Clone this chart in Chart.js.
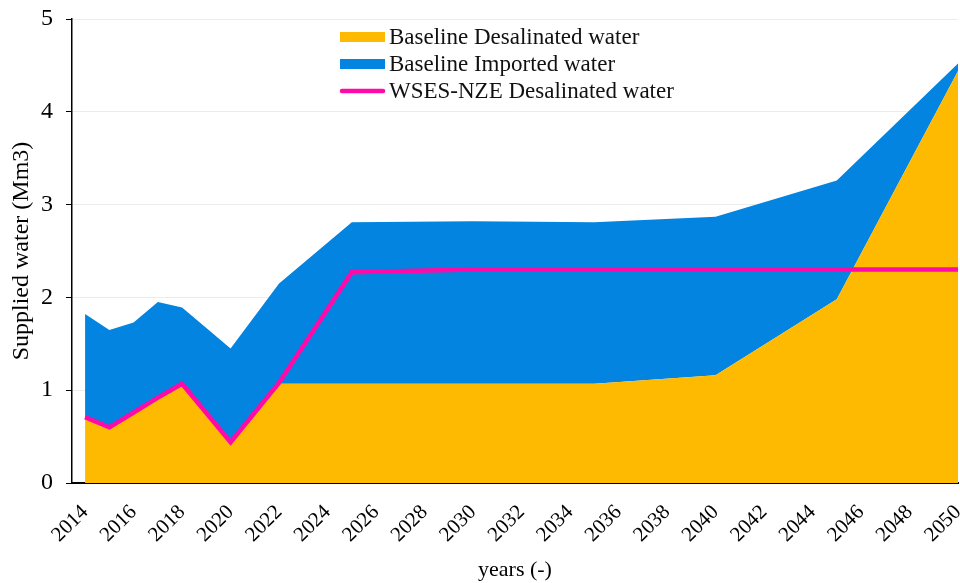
<!DOCTYPE html>
<html>
<head>
<meta charset="utf-8">
<script src="https://cdn.jsdelivr.net/npm/chart.js@4/dist/chart.umd.min.js"></script>
<style>
html,body{margin:0;padding:0;background:#fff;}
#wrap{width:960px;height:583px;position:relative;}
</style>
</head>
<body>
<div id="wrap"><canvas id="c" width="960" height="583"></canvas></div>
<script>
const years = [2014, 2015, 2016, 2017, 2018, 2020, 2022, 2025, 2030, 2035, 2040, 2045, 2050];
const baselineDesal = [0.69, 0.60, 0.76, 0.91, 1.07, 0.45, 1.07, 1.07, 1.07, 1.07, 1.16, 1.98, 4.44];
const baselineImported = [1.13, 1.05, 0.97, 1.04, 0.82, 1.00, 1.08, 1.74, 1.75, 1.74, 1.71, 1.28, 0.08];
const nzeDesal = [0.71, 0.60, 0.76, 0.92, 1.07, 0.44, 1.08, 2.27, 2.30, 2.30, 2.30, 2.30, 2.30];
const xTickYears = [2014, 2016, 2018, 2020, 2022, 2024, 2026, 2028, 2030, 2032, 2034, 2036, 2038, 2040, 2042, 2044, 2046, 2048, 2050];
const seriesLabels = ['Baseline Desalinated water', 'Baseline Imported water', 'WSES-NZE Desalinated water'];

const ORANGE = '#FDBA00', BLUE = '#0284E0', MAGENTA = '#FF0AA8';
const FONT = "'Liberation Serif', 'Times New Roman', serif";

const toPts = arr => years.map((y, i) => ({x: y, y: arr[i]}));

const legendPlugin = {
  id: 'customLegend',
  afterDraw(chart) {
    const ctx = chart.ctx;
    const ds = chart.data.datasets;
    const order = [1, 2, 0];
    const x0 = 340, ys = [37, 64, 91];
    ctx.save();
    ctx.font = '23px ' + FONT;
    ctx.textBaseline = 'middle';
    order.forEach((di, k) => {
      const d = ds[di];
      const y = ys[k];
      if (di === 0) {
        ctx.strokeStyle = d.borderColor;
        ctx.lineWidth = 4.5;
        ctx.lineCap = 'round';
        ctx.beginPath(); ctx.moveTo(x0 + 2, y); ctx.lineTo(x0 + 43, y); ctx.stroke();
      } else {
        ctx.fillStyle = d.backgroundColor;
        ctx.fillRect(x0, y - 5, 45, 10);
      }
      ctx.fillStyle = '#111';
      ctx.fillText(d.label, x0 + 49, y + 1);
    });
    ctx.restore();
  }
};

new Chart(document.getElementById('c'), {
  type: 'line',
  data: {
    datasets: [
      {
        type: 'line', label: seriesLabels[2], data: toPts(nzeDesal),
        borderColor: MAGENTA, borderWidth: 4.5, fill: false, pointRadius: 0,
        tension: 0, stack: 'nze', order: 0
      },
      {
        label: seriesLabels[0], data: toPts(baselineDesal),
        backgroundColor: ORANGE, borderColor: ORANGE, borderWidth: 0, fill: 'origin',
        pointRadius: 0, tension: 0, stack: 'base', order: 1
      },
      {
        label: seriesLabels[1], data: toPts(baselineImported),
        backgroundColor: BLUE, borderColor: BLUE, borderWidth: 0, fill: '-1',
        pointRadius: 0, tension: 0, stack: 'base', order: 1
      }
    ]
  },
  options: {
    responsive: false,
    animation: false,
    layout: {padding: {top: 19, right: 2, left: 0, bottom: 0}},
    plugins: {legend: {display: false}, tooltip: {enabled: false}},
    scales: {
      x: {
        type: 'linear', min: 2013.46, max: 2050,
        afterBuildTicks: s => { s.ticks = xTickYears.map(v => ({value: v})); },
        afterFit: s => { s.height = 100; s.paddingRight = 0; s.paddingLeft = 0; },
        grid: {display: false},
        border: {display: true, color: '#000', width: 2},
        ticks: {
          autoSkip: false, maxRotation: 45, minRotation: 45, padding: 9,
          color: '#000', font: {family: FONT, size: 21},
          callback: v => String(v)
        },
        title: {display: true, text: 'years (-)', color: '#000', font: {family: FONT, size: 22}, padding: {top: 0, bottom: 0}}
      },
      y: {
        stacked: true, min: 0, max: 5,
        afterFit: s => { s.width = 72; s.paddingTop = 0; s.paddingBottom = 0; },
        grid: {color: '#ececec', tickColor: '#000', tickLength: 6, lineWidth: 1},
        border: {display: true, color: '#000', width: 1.5},
        ticks: {stepSize: 1, color: '#000', padding: 13, font: {family: FONT, size: 24}},
        title: {display: true, text: 'Supplied water (Mm3)', color: '#000', font: {family: FONT, size: 24}, padding: {top: 7, bottom: 0}}
      }
    }
  },
  plugins: [legendPlugin]
});
</script>
</body>
</html>
